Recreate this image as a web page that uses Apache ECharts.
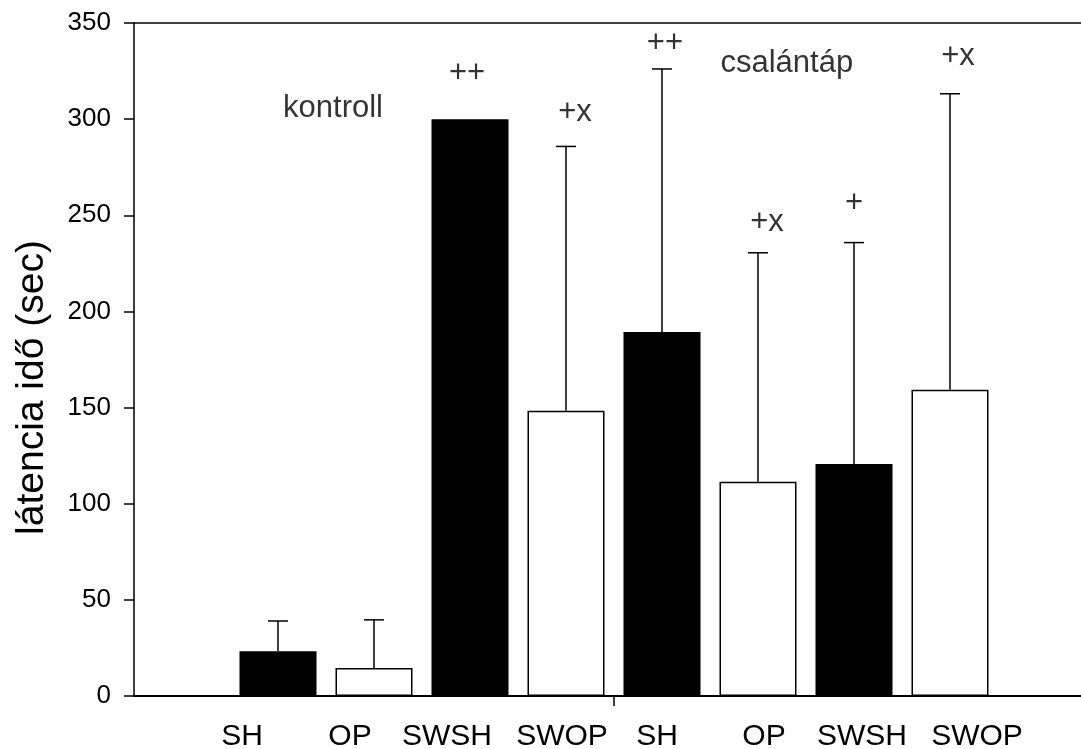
<!DOCTYPE html>
<html>
<head>
<meta charset="utf-8">
<script src="https://cdn.jsdelivr.net/npm/echarts@6/dist/echarts.min.js"></script>
<style>
html,body{margin:0;padding:0;background:#fff;}
#chart{width:1081px;height:749px;}
</style>
</head>
<body>
<div id="chart"></div>
<script>
// ---- data ----
const categories = ['SH', 'OP', 'SWSH', 'SWOP', 'SH', 'OP', 'SWSH', 'SWOP'];
const barX = [1.5, 2.5, 3.5, 4.5, 5.5, 6.5, 7.5, 8.5];
const means = [23.3, 14.6, 300, 148.4, 189.3, 111.4, 120.6, 159.3];
const sdUp = [15.7, 25.0, 0, 137.4, 136.8, 119.1, 115.2, 153.9];
const fills = ['#000000', '#ffffff', '#000000', '#ffffff', '#000000', '#ffffff', '#000000', '#ffffff'];
const labelX = [1.125, 2.25, 3.26, 4.458, 5.448, 6.5625, 7.583, 8.781];
const groupTickX = [5];
const yMin = 0, yMax = 350, yStep = 50;
const annoText = ['kontroll', 'csalántáp', '++', '+x', '++', '+x', '+', '+x'];
const annoX = [2.073, 6.80, 3.469, 4.594, 5.531, 6.594, 7.5, 8.583];
const annoY = [305.8, 328.9, 324.0, 303.7, 339.6, 246.4, 256.3, 332.8];
const yTitle = 'látencia idő (sec)';

const FONT = '"Liberation Sans", Arial, Helvetica, sans-serif';
const xMax = 9.8646;

const chart = echarts.init(document.getElementById('chart'), null, {renderer: 'canvas'});

const barData = barX.map((x, i) => ({
  value: [x, means[i]],
  itemStyle: {color: fills[i], borderColor: '#000', borderWidth: 1.5}
}));
const errData = barX.map((x, i) => [x, means[i], means[i] + sdUp[i]]);
const annoData = annoX.map((x, i) => [x, annoY[i], annoText[i]]);

function nearestLabel(v) {
  let best = 0, bd = Infinity;
  labelX.forEach((lx, i) => { const d = Math.abs(lx - v); if (d < bd) { bd = d; best = i; } });
  return categories[best];
}

const option = {
  backgroundColor: '#ffffff',
  animation: false,
  grid: {left: 134, right: 0, top: 23, bottom: 53, containLabel: false, outerBoundsMode: 'none'},
  xAxis: [
    {
      type: 'value', min: 0, max: xMax, position: 'bottom',
      axisLine: {show: true, onZero: false, lineStyle: {color: '#000', width: 2}},
      axisTick: {show: true, inside: false, length: 10, customValues: groupTickX, lineStyle: {color: '#000', width: 1.5}},
      axisLabel: {
        show: true, customValues: labelX, margin: 26,
        fontFamily: FONT, fontSize: 30, color: '#000',
        formatter: (v) => nearestLabel(v)
      },
      splitLine: {show: false}
    },
    {
      type: 'value', min: 0, max: xMax, position: 'top',
      axisLine: {show: true, onZero: false, lineStyle: {color: '#000', width: 1.5}},
      axisTick: {show: false}, axisLabel: {show: false}, splitLine: {show: false}
    }
  ],
  yAxis: {
    type: 'value', min: yMin, max: yMax, interval: yStep,
    name: yTitle, nameLocation: 'middle', nameGap: 82, nameRotate: 90,
    nameTextStyle: {fontFamily: FONT, fontSize: 39, color: '#000', padding: [0, 56, 0, 0]},
    axisLine: {show: true, lineStyle: {color: '#000', width: 1.5}},
    axisTick: {show: true, inside: false, length: 10, lineStyle: {color: '#000', width: 1.5}},
    axisLabel: {fontFamily: FONT, fontSize: 26, color: '#000', margin: 23},
    splitLine: {show: false}
  },
  series: [
    {
      type: 'bar', xAxisIndex: 0, barWidth: 77, data: barData, z: 2
    },
    {
      type: 'custom', xAxisIndex: 0, data: errData, z: 3,
      renderItem: function (params, api) {
        const x = api.value(0), m = api.value(1), u = api.value(2);
        if (!(u > m)) return null;
        const p0 = api.coord([x, m]);
        const p1 = api.coord([x, u]);
        const style = {stroke: '#000', lineWidth: 1.5};
        return {
          type: 'group',
          children: [
            {type: 'line', shape: {x1: p0[0], y1: p0[1], x2: p1[0], y2: p1[1]}, style: style},
            {type: 'line', shape: {x1: p1[0] - 10, y1: p1[1], x2: p1[0] + 10, y2: p1[1]}, style: style}
          ]
        };
      }
    },
    {
      type: 'scatter', xAxisIndex: 0, data: annoData, symbolSize: 0, z: 4,
      label: {
        show: true, position: 'inside', fontFamily: FONT, fontSize: 31, color: '#000',
        formatter: (p) => p.value[2]
      }
    }
  ]
};
chart.setOption(option);
</script>
</body>
</html>
